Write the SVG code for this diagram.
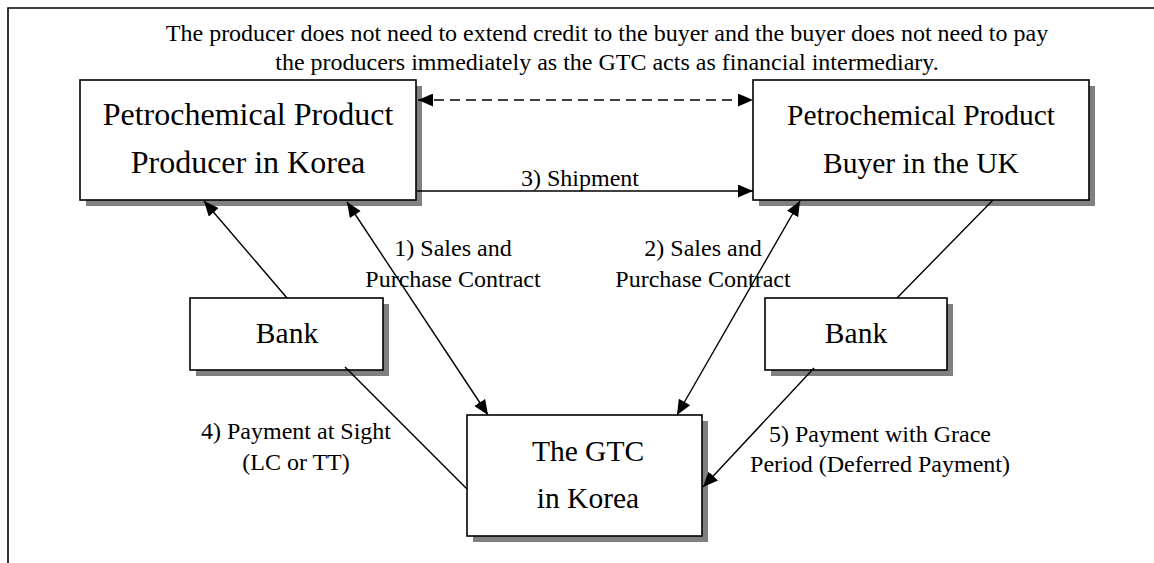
<svg xmlns="http://www.w3.org/2000/svg" width="1154" height="563" viewBox="0 0 1154 563">
  <style>
    .box { fill: #ffffff; stroke: #000000; stroke-width: 1.6; }
    .shadow { fill: #808080; }
    .t { font-family: "Liberation Serif", "Times New Roman", serif; fill: #000000; text-anchor: middle; }
    .big { font-size: 32px; }
    .mid { font-size: 29.5px; }
    .lbl { font-size: 24px; }
    .note { font-size: 24px; }
    .conn { stroke: #000000; stroke-width: 1.4; fill: none; }
    .dash { stroke-dasharray: 10 6; }
  </style>
  <defs>
    <marker id="arrowEnd" markerUnits="userSpaceOnUse" markerWidth="17" markerHeight="13" refX="15" refY="6.5" orient="auto">
      <path d="M0,0 L15,6.5 L0,13 Z" fill="#000000"/>
    </marker>
    <marker id="arrowStart" markerUnits="userSpaceOnUse" markerWidth="17" markerHeight="13" refX="0" refY="6.5" orient="auto">
      <path d="M15,0 L0,6.5 L15,13 Z" fill="#000000"/>
    </marker>
  </defs>

  <rect width="1154" height="563" fill="#ffffff"/>

  <!-- outer frame: top rule and left rule -->
  <path d="M8,563 L8,8 L1154,8" fill="none" stroke="#000000" stroke-width="1.6"/>

  <!-- explanatory note -->
  <g id="note">
    <text class="t note" x="607" y="41">The producer does not need to extend credit to the buyer and the buyer does not need to pay</text>
    <text class="t note" x="607" y="70">the producers immediately as the GTC acts as financial intermediary.</text>
  </g>

  <g id="producer">
    <rect class="shadow" x="86" y="86" width="336" height="120"/>
    <rect class="box" x="80" y="80" width="336" height="120"/>
    <text class="t big" x="248" y="125">Petrochemical Product</text>
    <text class="t big" x="248" y="173">Producer in Korea</text>
  </g>

  <g id="buyer">
    <rect class="shadow" x="759" y="86" width="336" height="120"/>
    <rect class="box" x="753" y="80" width="336" height="120"/>
    <text class="t mid" x="921" y="125">Petrochemical Product</text>
    <text class="t mid" x="921" y="173">Buyer in the UK</text>
  </g>

  <g id="bank-korea">
    <rect class="shadow" x="196" y="304" width="193" height="72"/>
    <rect class="box" x="190" y="298" width="193" height="72"/>
    <text class="t mid" x="287" y="343">Bank</text>
  </g>

  <g id="bank-uk">
    <rect class="shadow" x="771" y="304" width="182" height="72"/>
    <rect class="box" x="765" y="298" width="182" height="72"/>
    <text class="t mid" x="856" y="343">Bank</text>
  </g>

  <g id="gtc">
    <rect class="shadow" x="473" y="421" width="235" height="121"/>
    <rect class="box" x="467" y="415" width="235" height="121"/>
    <text class="t mid" x="588" y="461">The GTC</text>
    <text class="t mid" x="588" y="508">in Korea</text>
  </g>

  <g id="connectors">
    <line class="conn dash" x1="418" y1="100" x2="753" y2="100" marker-start="url(#arrowStart)" marker-end="url(#arrowEnd)"/>
    <line class="conn" x1="417" y1="191" x2="753" y2="191" marker-end="url(#arrowEnd)"/>
    <line class="conn" x1="287" y1="298" x2="204" y2="201" marker-end="url(#arrowEnd)"/>
    <line class="conn" x1="347" y1="202" x2="488" y2="415" marker-start="url(#arrowStart)" marker-end="url(#arrowEnd)"/>
    <line class="conn" x1="677" y1="415" x2="800" y2="201" marker-start="url(#arrowStart)" marker-end="url(#arrowEnd)"/>
    <line class="conn" x1="897" y1="298" x2="993" y2="200"/>
    <line class="conn" x1="345" y1="367" x2="467" y2="489"/>
    <line class="conn" x1="814" y1="368" x2="703" y2="487" marker-end="url(#arrowEnd)"/>
  </g>

  <g id="labels">
    <text class="t lbl" x="580" y="186">3) Shipment</text>
    <text class="t lbl" x="453" y="256">1) Sales and</text>
    <text class="t lbl" x="453" y="287">Purchase Contract</text>
    <text class="t lbl" x="703" y="256">2) Sales and</text>
    <text class="t lbl" x="703" y="287">Purchase Contract</text>
    <text class="t lbl" x="296" y="439">4) Payment at Sight</text>
    <text class="t lbl" x="296" y="470">(LC or TT)</text>
    <text class="t lbl" x="880" y="442">5) Payment with Grace</text>
    <text class="t lbl" x="880" y="472">Period (Deferred Payment)</text>
  </g>
</svg>
